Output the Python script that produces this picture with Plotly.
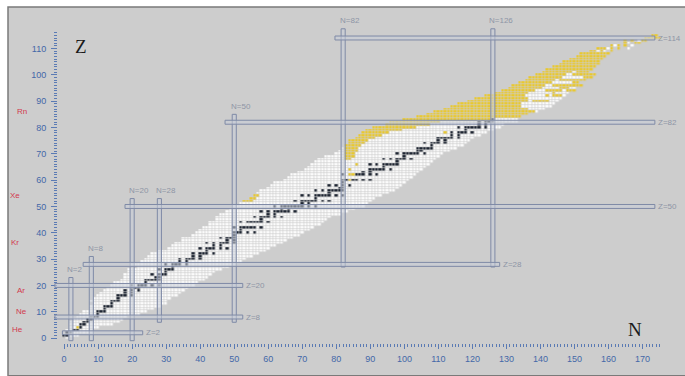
import plotly.graph_objects as go

# ---------------- data ----------------
# known nuclides: for each Z, lowest and highest known N
band_Z = list(range(0, 109))
band_Nmin = [1, 0, 1, 1, 2, 2, 2, 3, 4, 5, 6, 8, 8, 9, 8, 9, 10, 11, 12, 13,
             14, 15, 17, 18, 18, 19, 19, 22, 20, 23, 24, 25, 26, 28, 31, 32, 33, 35, 35, 38,
             39, 40, 41, 43, 43, 45, 45, 46, 48, 49, 50, 52, 53, 55, 56, 57, 58, 60, 61, 62,
             65, 66, 67, 69, 71, 72, 73, 74, 75, 77, 80, 81, 82, 83, 84, 84, 86, 87, 88, 89,
             91, 95, 96, 100, 104, 107, 109, 112, 114, 116, 119, 121, 124, 127, 129, 131, 132, 134, 136, 137,
             139, 141, 142, 144, 146, 147, 149, 151, 152]
band_Nmax = [1, 4, 8, 8, 10, 14, 16, 17, 18, 22, 24, 26, 28, 30, 30, 31, 33, 34, 35, 36,
             38, 39, 41, 42, 43, 44, 46, 48, 50, 52, 53, 55, 57, 59, 60, 62, 64, 65, 67, 69,
             70, 72, 73, 75, 76, 77, 78, 81, 83, 85, 88, 89, 90, 91, 93, 95, 97, 98, 99, 100,
             101, 102, 103, 104, 105, 106, 107, 108, 109, 110, 111, 113, 115, 117, 118, 119, 120, 122, 124, 126,
             128, 129, 133, 133, 134, 136, 139, 141, 143, 144, 145, 146, 147, 148, 149, 150, 151, 151, 152, 153,
             154, 154, 155, 156, 157, 157, 158, 159, 160]

# alpha-emitter (yellow) segments: Z, first N, last N
alpha_Z = [4, 52, 53, 54, 60, 62, 62, 64, 66,
           68, 69, 70, 71, 72, 73, 74, 75, 76, 77, 78, 79, 80, 81, 82, 83,
           84, 85, 86, 87, 88, 89, 90, 90, 91, 92, 92, 92, 93, 93,
           94, 94, 94, 95, 95, 96, 96, 97, 97, 98, 98, 99, 99, 100, 100, 101, 101, 102, 102, 103,
           103, 104, 104, 105, 105, 106, 106, 107, 108, 78]
alpha_N0 = [4, 53, 55, 56, 84, 84, 85, 84, 86,
            83, 83, 83, 83, 83, 83, 84, 84, 86, 87, 88, 89, 91, 95, 96, 100,
            104, 107, 109, 112, 114, 116, 119, 138, 121, 124, 142, 144, 127, 144,
            129, 142, 148, 131, 146, 132, 144, 134, 150, 136, 146, 137, 153, 139, 150, 141, 151, 142, 150, 144,
            152, 146, 153, 147, 154, 149, 155, 151, 152, 112]
alpha_N1 = [4, 55, 56, 57, 84, 84, 85, 84, 86,
            84, 85, 85, 86, 86, 87, 88, 89, 91, 93, 95, 99, 103, 107, 110, 125,
            134, 136, 138, 136, 134, 134, 136, 142, 136, 135, 142, 146, 136, 144,
            138, 146, 150, 140, 148, 141, 152, 143, 151, 144, 153, 146, 155, 147, 156, 149, 154, 150, 155, 151,
            156, 152, 157, 153, 157, 154, 158, 159, 160, 112]

# sparse superheavy nuclides: Z, N, kind (1 = other decay, 2 = alpha)
sh_Z = [109, 109, 109, 109, 109, 109, 110, 110, 110, 110, 110, 110, 110,
        111, 111, 111, 111, 111, 112, 112, 112, 112, 113, 113, 113, 113, 113,
        114, 114, 114, 114, 114, 115, 115]
sh_N = [155, 156, 157, 158, 159, 161, 157, 158, 159, 160, 161, 163, 166,
        161, 162, 163, 165, 167, 165, 166, 168, 169, 165, 167, 169, 170, 171,
        171, 172, 173, 174, 175, 173, 174]
sh_kind = [2, 2, 1, 2, 1, 2, 2, 2, 2, 1, 2, 2, 1,
           2, 1, 2, 2, 1, 2, 1, 2, 2, 2, 2, 1, 2, 2,
           2, 2, 2, 2, 2, 2, 2]

# stable nuclides (black): Z -> list of N
stable = {1: [0, 1], 2: [1, 2], 3: [3, 4], 4: [5], 5: [5, 6], 6: [6, 7], 7: [7, 8],
          8: [8, 9, 10], 9: [10], 10: [10, 11, 12], 11: [12], 12: [12, 13, 14], 13: [14],
          14: [14, 15, 16], 15: [16], 16: [16, 17, 18, 20], 17: [18, 20], 18: [18, 20, 22],
          19: [20, 21, 22], 20: [20, 22, 23, 24, 26, 28], 21: [24], 22: [24, 25, 26, 27, 28],
          23: [27, 28], 24: [26, 28, 29, 30], 25: [30], 26: [28, 30, 31, 32], 27: [32],
          28: [30, 32, 33, 34, 36], 29: [34, 36], 30: [34, 36, 37, 38, 40], 31: [38, 40],
          32: [38, 40, 41, 42, 44], 33: [42], 34: [40, 42, 43, 44, 46, 48], 35: [44, 46],
          36: [42, 44, 46, 47, 48, 50], 37: [48, 50], 38: [46, 48, 49, 50], 39: [50],
          40: [50, 51, 52, 54, 56], 41: [52], 42: [50, 52, 53, 54, 55, 56, 58],
          44: [52, 54, 55, 56, 57, 58, 60], 45: [58], 46: [56, 58, 59, 60, 62, 64],
          47: [60, 62], 48: [58, 60, 62, 63, 64, 65, 66, 68], 49: [64, 66],
          50: [62, 64, 65, 66, 67, 68, 69, 70, 72, 74], 51: [70, 72],
          52: [68, 70, 71, 72, 73, 74, 76, 78], 53: [74], 54: [70, 72, 74, 75, 76, 77, 78, 80, 82],
          55: [78], 56: [74, 76, 78, 79, 80, 81, 82], 57: [81, 82], 58: [78, 80, 82, 84],
          59: [82], 60: [82, 83, 85, 86, 88, 90], 62: [82, 86, 87, 88, 90, 92],
          63: [88, 90], 64: [90, 91, 92, 93, 94, 96], 65: [94], 66: [90, 92, 94, 95, 96, 97, 98],
          67: [98], 68: [94, 96, 98, 99, 100, 102], 69: [100], 70: [98, 100, 101, 102, 103, 104, 106],
          71: [104, 105], 72: [104, 105, 106, 107, 108], 73: [108], 74: [106, 108, 109, 110, 112],
          75: [110, 112], 76: [110, 111, 112, 113, 114, 116], 77: [114, 116],
          78: [114, 116, 117, 118, 120], 79: [118], 80: [116, 118, 119, 120, 121, 122, 124],
          81: [122, 124], 82: [122, 124, 125, 126], 83: [126]}

# magic-number guide lines
magicN = [2, 8, 20, 28, 50, 82, 126]
magicN_Zlow = [-1, -1, -1, 6, 6, 27, 27]
magicN_Zhigh = [23, 31, 53, 53, 85, 117.5, 117.5]
magicZ = [2, 8, 20, 28, 50, 82, 114]
magicZ_Nlow = [-0.5, -2.7, -2.7, 5.6, 17.9, 47.3, 79.6]
magicZ_Nhigh = [23.1, 52.5, 52.5, 128, 173.6, 173.6, 173.6]

elements = ["He", "Ne", "Ar", "Kr", "Xe", "Rn"]
element_Z = [2, 10, 18, 36, 54, 86]

x_ticks = list(range(0, 171, 10))
y_ticks = list(range(0, 111, 10))

# ---------------- geometry ----------------
W, H = 685, 376
ML, MT = 8, 7
PW, PH = W - ML, H - MT
X0, SX = 64.1, 3.403     # pixel of N=0 and px per N
Y0, SY = 341.7, 2.661    # pixel of Z=0 and px per Z
element_px = [17.5, 21.7, 20.8, 15.0, 15.3, 21.7]
element_dy = [1.2, 0, 0, 0.5, 0, 0]


def fx(px):
    return (px - ML) / PW


def fy(py):
    return (H - py) / PH


xr = [(ML - X0) / SX, (W - X0) / SX]
yr = [(Y0 - H) / SY, (Y0 - MT) / SY]

# ---------------- grid ----------------
NN, NZ = 181, 119
grid = [[None] * NN for _ in range(NZ)]
for z, a, b in zip(band_Z, band_Nmin, band_Nmax):
    for n in range(a, b + 1):
        grid[z][n] = 1
for z, a, b in zip(alpha_Z, alpha_N0, alpha_N1):
    for n in range(a, b + 1):
        grid[z][n] = 2
for z, n, k in zip(sh_Z, sh_N, sh_kind):
    grid[z][n] = k
for z, ns in stable.items():
    for n in ns:
        grid[z][n] = 3

BLACK = "#1f2633"
YELLOW = "#e8c832"
fig = go.Figure()
fig.add_trace(go.Heatmap(
    z=grid, x=list(range(NN)), y=list(range(NZ)),
    colorscale=[[0, "#fbfbfb"], [0.3333, "#fbfbfb"], [0.3333, YELLOW], [0.6667, YELLOW],
                [0.6667, BLACK], [1, BLACK]],
    zmin=0.5, zmax=3.5, showscale=False, xgap=0.6, ygap=0.6, hoverinfo="skip"))

# dummy trace for tick axes
fig.add_trace(go.Scatter(x=[None], y=[None], xaxis="x2", yaxis="y2",
                         showlegend=False, hoverinfo="skip"))

shapes = []
# panel
shapes.append(dict(type="rect", xref="paper", yref="paper", x0=0, x1=1.01, y0=-0.01, y1=1,
                   fillcolor="#cdcdcd", line=dict(color="#7a7a7a", width=1.5), layer="below"))
LINEC = "#7f8aa6"
FILLC = "rgba(200,205,216,0.55)"
for n, a, b in zip(magicN, magicN_Zlow, magicN_Zhigh):
    shapes.append(dict(type="rect", xref="x", yref="y", x0=n - 0.6, x1=n + 0.6, y0=a, y1=b,
                       line=dict(color=LINEC, width=1), fillcolor=FILLC))
for z, a, b in zip(magicZ, magicZ_Nlow, magicZ_Nhigh):
    shapes.append(dict(type="rect", xref="x", yref="y", x0=a, x1=b, y0=z - 0.75, y1=z + 0.75,
                       line=dict(color=LINEC, width=1), fillcolor=FILLC))

ann = []
LABC = "#8e95a6"
for n, b in zip(magicN, magicN_Zhigh):
    ann.append(dict(x=n - 1.6, y=b + 0.6, xref="x", yref="y", text="N=%d" % n, showarrow=False,
                    xanchor="left", yanchor="bottom", font=dict(size=8, color=LABC, family="Arial")))
for z, b in zip(magicZ, magicZ_Nhigh):
    ann.append(dict(x=b + 0.3, y=z, xref="x", yref="y", text="Z=%d" % z, showarrow=False,
                    xanchor="left", yanchor="middle", font=dict(size=8, color=LABC, family="Arial")))
for el, z, px, dy in zip(elements, element_Z, element_px, element_dy):
    ann.append(dict(x=fx(px), y=z + dy, xref="paper", yref="y", text=el, showarrow=False,
                    xanchor="center", yanchor="middle",
                    font=dict(size=8, color="#d23a4e", family="Arial")))
ann.append(dict(x=(80.7 - X0) / SX, y=(Y0 - 46.7) / SY, xref="x", yref="y", text="Z",
                showarrow=False, font=dict(size=19, color="#1a1a1a", family="Liberation Serif")))
ann.append(dict(x=(635 - X0) / SX, y=(Y0 - 333.3) / SY, xref="x", yref="y", text="N",
                showarrow=False, font=dict(size=19, color="#1a1a1a", family="Liberation Serif")))

TICKC = "#5b7bb4"
TICKF = dict(size=9, color="#4468a8", family="Arial")
fig.update_layout(
    width=W, height=H, margin=dict(l=ML, r=0, t=MT, b=0),
    paper_bgcolor="white", plot_bgcolor="rgba(0,0,0,0)",
    shapes=shapes, annotations=ann, showlegend=False,
    xaxis=dict(range=xr, domain=[0, 1], visible=False, fixedrange=True),
    yaxis=dict(range=yr, domain=[0, 1], visible=False, fixedrange=True),
    xaxis2=dict(range=[-0.3, 175.3], domain=[fx(X0 - 0.3 * SX), fx(X0 + 175.3 * SX)],
                anchor="free", position=fy(346.5), side="bottom",
                tickmode="array", tickvals=x_ticks, ticktext=[str(v) for v in x_ticks],
                ticks="outside", ticklen=5, tickwidth=1, tickcolor=TICKC,
                minor=dict(dtick=1, tick0=0, ticks="outside", ticklen=3, tickwidth=1, tickcolor=TICKC),
                showgrid=False, zeroline=False, showline=False, tickfont=TICKF,
                ticklabelstandoff=2, fixedrange=True),
    yaxis2=dict(range=[-0.3, 116.3], domain=[fy(Y0 + 0.3 * SY), fy(Y0 - 116.3 * SY)],
                anchor="free", position=fx(57), side="left",
                tickmode="array", tickvals=y_ticks, ticktext=[str(v) for v in y_ticks],
                ticks="outside", ticklen=6, tickwidth=1, tickcolor=TICKC,
                minor=dict(dtick=1, tick0=0, ticks="outside", ticklen=3, tickwidth=1, tickcolor=TICKC),
                showgrid=False, zeroline=False, showline=False, tickfont=TICKF,
                ticklabelstandoff=3, fixedrange=True),
)

fig.write_html("out.html", config={"displayModeBar": False},
               post_script="document.body.style.margin='0';document.body.style.overflow='hidden';")
